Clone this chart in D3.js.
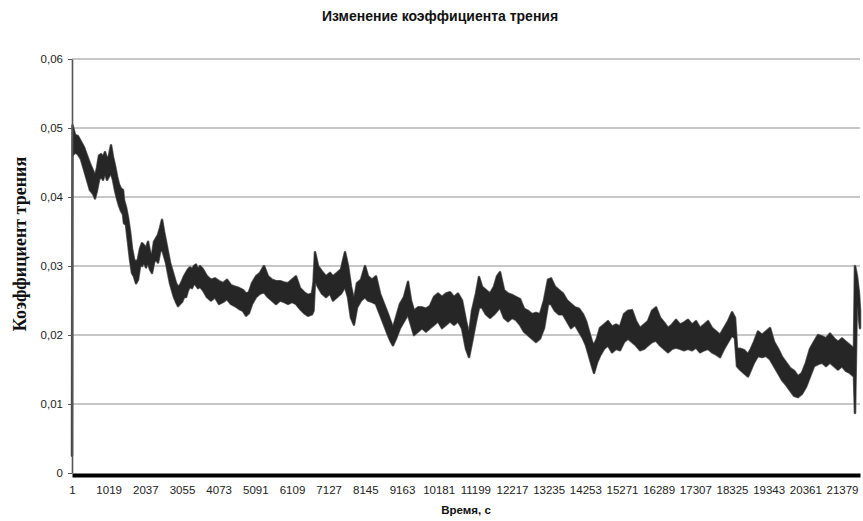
<!DOCTYPE html>
<html>
<head>
<meta charset="utf-8">
<script src="https://cdn.jsdelivr.net/npm/d3@7"></script>
<style>
  body { margin: 0; background: #fff; }
  svg { display: block; }
</style>
</head>
<body>
<svg id="chart" width="863" height="521"></svg>
<script>
// Labels
const titleText = "Изменение коэффициента трения";
const xTitle = "Время, с";
const yTitle = "Коэффициент трения";

// Axis ticks
const xTickValues = [1, 1019, 2037, 3055, 4073, 5091, 6109, 7127, 8145, 9163, 10181,
  11199, 12217, 13235, 14253, 15271, 16289, 17307, 18325, 19343, 20361, 21379];
const yTickValues = [0, 0.01, 0.02, 0.03, 0.04, 0.05, 0.06];
const timeEnd = 21879;

// Measured friction coefficient: time (s) with lower and upper bound of the noisy trace
const times = [1,15,84,168,251,334,417,501,584,640,695,751,806,862,917,973,1028,1084,1139,1195,
  1250,1306,1361,1417,1445,1500,1556,1611,1667,1722,1778,1833,1889,1944,2000,2055,2111,2167,2222,2278,
  2333,2389,2444,2500,2555,2611,2666,2722,2777,2833,2888,2944,3000,3055,3111,3166,3222,3277,3333,3388,
  3444,3499,3555,3638,3749,3860,3971,4082,4194,4305,4416,4527,4638,4749,4832,4915,4999,5110,5221,5332,
  5443,5554,5665,5776,5887,5998,6109,6220,6331,6442,6553,6664,6706,6748,6831,6942,7053,7164,7247,7358,
  7469,7581,7664,7747,7830,7914,8025,8136,8219,8330,8441,8552,8663,8774,8858,8913,8997,9108,9219,9330,
  9413,9496,9607,9718,9829,9940,10052,10163,10274,10385,10496,10607,10718,10829,10940,11024,11107,11218,11301,11384,
  11495,11607,11718,11801,11884,11995,12106,12217,12328,12439,12550,12661,12772,12883,12995,13106,13217,13300,13411,13522,
  13633,13744,13855,13966,14077,14188,14272,14355,14438,14494,14577,14660,14771,14883,14994,15105,15216,15327,15438,15549,
  15660,15771,15882,15993,16104,16216,16327,16438,16549,16660,16771,16882,16993,17104,17215,17326,17437,17549,17660,17771,
  17882,17993,18104,18215,18326,18409,18465,18548,18659,18770,18853,18936,19047,19159,19270,19381,19492,19603,19714,19825,
  19936,20047,20158,20269,20380,20492,20603,20714,20824,20935,21046,21157,21268,21379,21490,21601,21712,21740,21795,21851,
  21879];

const lower = [0.0025,0.046,0.0465,0.0462,0.0455,0.044,0.0425,0.041,0.0405,0.0398,0.041,0.0425,0.043,0.0425,0.0435,0.0425,0.043,0.0435,0.0425,0.041,
  0.0398,0.0388,0.038,0.0375,0.0362,0.036,0.0335,0.031,0.029,0.0285,0.0275,0.028,0.030,0.030,0.0305,0.0298,0.0305,0.0295,0.029,0.0305,
  0.031,0.0305,0.032,0.0325,0.0315,0.0305,0.029,0.0275,0.0265,0.0255,0.0248,0.0242,0.0245,0.0248,0.0255,0.0255,0.0265,0.027,0.0268,0.0275,
  0.0272,0.0268,0.027,0.0265,0.0255,0.025,0.0255,0.0245,0.0248,0.0252,0.0245,0.0242,0.0238,0.0235,0.0228,0.0232,0.0245,0.0255,0.026,0.0262,
  0.0255,0.025,0.0245,0.025,0.0248,0.0245,0.0248,0.0245,0.0238,0.0232,0.0228,0.023,0.0235,0.028,0.027,0.026,0.0255,0.026,0.025,0.0255,
  0.026,0.027,0.0255,0.0225,0.0215,0.024,0.025,0.0255,0.025,0.0248,0.0245,0.023,0.0215,0.020,0.019,0.0185,0.0195,0.021,0.022,0.023,
  0.0215,0.020,0.0205,0.021,0.0205,0.021,0.0215,0.022,0.021,0.0215,0.022,0.0215,0.022,0.021,0.018,0.0168,0.019,0.022,0.024,0.024,
  0.023,0.0225,0.023,0.0235,0.024,0.0225,0.022,0.0225,0.0222,0.0215,0.0205,0.020,0.0195,0.019,0.0195,0.021,0.0245,0.0245,0.0235,0.023,
  0.023,0.022,0.021,0.0215,0.0205,0.0195,0.0185,0.017,0.0155,0.0145,0.016,0.017,0.018,0.0185,0.0175,0.018,0.0178,0.019,0.0195,0.019,
  0.0185,0.0178,0.018,0.0185,0.019,0.0192,0.0185,0.018,0.0175,0.018,0.0182,0.018,0.0178,0.018,0.0178,0.0182,0.0175,0.0178,0.018,0.0175,
  0.0172,0.0168,0.018,0.019,0.020,0.0195,0.0155,0.015,0.0145,0.014,0.015,0.016,0.017,0.0168,0.017,0.0165,0.0155,0.0145,0.0135,0.0128,
  0.012,0.0112,0.011,0.0115,0.0125,0.014,0.0155,0.0158,0.016,0.0155,0.016,0.0155,0.015,0.0155,0.0148,0.0145,0.014,0.0087,0.026,0.0225,
  0.021];

const upper = [0.0025,0.0504,0.049,0.0488,0.048,0.0472,0.046,0.0448,0.0438,0.043,0.0442,0.046,0.0462,0.0458,0.0465,0.0455,0.046,0.0475,0.0458,0.0445,
  0.043,0.0418,0.0412,0.041,0.0395,0.0385,0.037,0.035,0.0325,0.031,0.0305,0.031,0.0325,0.0333,0.033,0.0325,0.0335,0.032,0.0315,0.0335,
  0.034,0.0345,0.0355,0.0367,0.035,0.0335,0.032,0.0305,0.0295,0.0285,0.0275,0.027,0.0272,0.0278,0.0285,0.029,0.0295,0.0298,0.0295,0.030,
  0.0302,0.0295,0.030,0.0295,0.0285,0.028,0.0282,0.0278,0.0275,0.028,0.0272,0.027,0.0268,0.0265,0.026,0.0262,0.0275,0.0285,0.029,0.030,
  0.0285,0.028,0.0278,0.0278,0.0276,0.0275,0.028,0.0285,0.0268,0.0262,0.0258,0.026,0.0275,0.032,0.030,0.0292,0.0285,0.029,0.0285,0.029,
  0.0295,0.032,0.030,0.027,0.025,0.0275,0.028,0.030,0.0285,0.028,0.0285,0.026,0.0245,0.023,0.0218,0.021,0.0225,0.0245,0.0255,0.0277,
  0.025,0.0235,0.024,0.024,0.0238,0.0242,0.0255,0.026,0.0255,0.026,0.0262,0.0255,0.026,0.025,0.022,0.020,0.0235,0.026,0.0284,0.027,
  0.0265,0.026,0.027,0.0285,0.0291,0.0265,0.026,0.0258,0.0255,0.0252,0.0238,0.0235,0.023,0.0232,0.023,0.025,0.028,0.0282,0.027,0.0265,
  0.026,0.025,0.0245,0.024,0.0238,0.023,0.022,0.0205,0.019,0.0185,0.0195,0.021,0.0215,0.022,0.0212,0.0215,0.0212,0.023,0.0235,0.0236,
  0.022,0.021,0.0215,0.022,0.0235,0.024,0.0225,0.0218,0.021,0.0215,0.0222,0.0215,0.0218,0.0222,0.0215,0.022,0.021,0.0215,0.022,0.021,
  0.0205,0.020,0.021,0.022,0.0233,0.0225,0.018,0.018,0.0178,0.0172,0.018,0.019,0.0205,0.020,0.0205,0.021,0.019,0.018,0.0168,0.016,
  0.0152,0.0148,0.014,0.0145,0.016,0.018,0.019,0.020,0.0198,0.0195,0.0202,0.0195,0.019,0.0195,0.019,0.0185,0.018,0.030,0.0285,0.026,
  0.0235];

const plot = { left: 72, right: 860, top: 59, bottom: 473 };

const svg = d3.select("#chart");

const x = d3.scaleLinear().domain([1, timeEnd]).range([plot.left, plot.right]);
const y = d3.scaleLinear().domain([0, 0.06]).range([plot.bottom, plot.top]);

const fontSans = "Arial, 'Liberation Sans', Helvetica, sans-serif";

// Horizontal gridlines
svg.append("g")
  .selectAll("line")
  .data(yTickValues.filter(v => v > 0))
  .join("line")
  .attr("x1", plot.left).attr("x2", plot.right)
  .attr("y1", d => y(d)).attr("y2", d => y(d))
  .attr("stroke", "#8f8f8f")
  .attr("stroke-width", 1.2);

// Trace band: soft outer edge, then the dark core
const data = times.map((t, i) => ({ t, lo: lower[i], hi: upper[i] }));
const band = d3.area()
  .x(d => x(d.t))
  .y0(d => y(d.lo))
  .y1(d => y(d.hi))
  .curve(d3.curveLinear);

svg.append("path")
  .datum(data)
  .attr("d", band)
  .attr("fill", "#555")
  .attr("stroke", "#6a6a6a")
  .attr("stroke-width", 2.6)
  .attr("stroke-linejoin", "round");

svg.append("path")
  .datum(data)
  .attr("d", band)
  .attr("fill", "#262626")
  .attr("stroke", "#262626")
  .attr("stroke-width", 1.2)
  .attr("stroke-linejoin", "round");

// Y axis
const fmt = d => d === 0 ? "0" : d3.format(".2f")(d).replace(".", ",");
const yAxis = svg.append("g")
  .attr("transform", `translate(${plot.left},0)`)
  .call(d3.axisLeft(y).tickValues(yTickValues).tickFormat(fmt).tickSize(4).tickSizeOuter(0).tickPadding(5));
yAxis.select(".domain").attr("stroke", "#555").attr("stroke-width", 1.6);
yAxis.selectAll(".tick line").attr("stroke", "#555");
yAxis.selectAll("text")
  .attr("font-family", fontSans).attr("font-size", 11.5).attr("fill", "#222");

// X axis (heavy baseline)
const xAxis = svg.append("g")
  .attr("transform", `translate(0,${plot.bottom + 2})`)
  .call(d3.axisBottom(x).tickValues(xTickValues).tickFormat(d3.format("d")).tickSize(0).tickSizeOuter(0).tickPadding(11));
xAxis.select(".domain").attr("stroke", "#000").attr("stroke-width", 4);
xAxis.selectAll("text")
  .attr("font-family", fontSans).attr("font-size", 11.5).attr("fill", "#222");

// Titles
svg.append("text")
  .attr("x", 440).attr("y", 21)
  .attr("text-anchor", "middle")
  .attr("font-family", fontSans).attr("font-weight", "bold").attr("font-size", 14)
  .attr("fill", "#111")
  .text(titleText);

svg.append("text")
  .attr("x", (plot.left + plot.right) / 2).attr("y", 514)
  .attr("text-anchor", "middle")
  .attr("font-family", fontSans).attr("font-weight", "bold").attr("font-size", 11.5)
  .attr("fill", "#111")
  .text(xTitle);

svg.append("text")
  .attr("transform", "translate(26,244) rotate(-90)")
  .attr("text-anchor", "middle")
  .attr("font-family", "'Times New Roman', 'Liberation Serif', serif")
  .attr("font-weight", "bold").attr("font-size", 18)
  .attr("fill", "#111")
  .text(yTitle);
</script>
</body>
</html>
